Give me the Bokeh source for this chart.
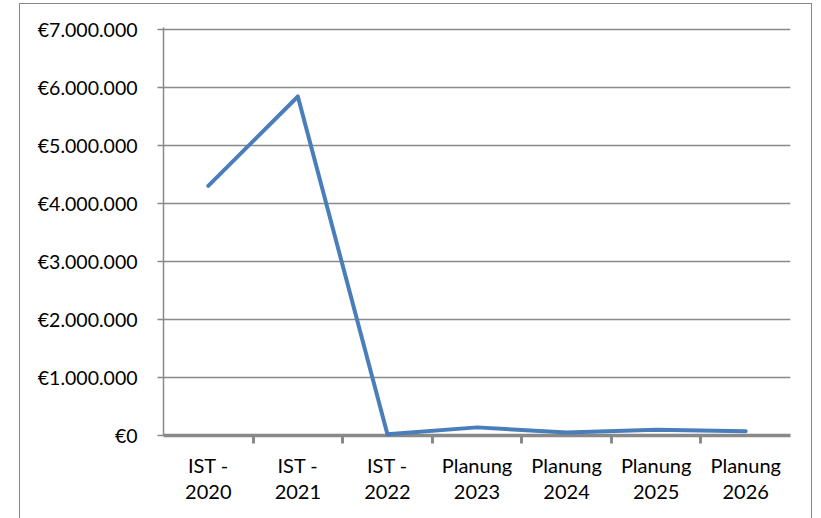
from bokeh.plotting import figure
from bokeh.models import (FactorRange, Range1d, CategoricalAxis, CustomJSTickFormatter,
                          FixedTicker, ColumnDataSource, InlineStyleSheet)
from bokeh.embed import file_html
from bokeh.resources import INLINE

categories = ["IST - 2020", "IST - 2021", "IST - 2022", "Planung 2023",
              "Planung 2024", "Planung 2025", "Planung 2026"]
label_line1 = ["IST -", "IST -", "IST -", "Planung", "Planung", "Planung", "Planung"]
label_line2 = ["2020", "2021", "2022", "2023", "2024", "2025", "2026"]
values = [4300000, 5840000, 20000, 140000, 50000, 100000, 75000]
y_ticks = [0, 1000000, 2000000, 3000000, 4000000, 5000000, 6000000, 7000000]
y_tick_labels = ["€0", "€1.000.000", "€2.000.000", "€3.000.000", "€4.000.000",
                 "€5.000.000", "€6.000.000", "€7.000.000"]

FONT = "Lato"
GRAY = "#898989"

src = ColumnDataSource(data=dict(x=categories, y=values))

# outer chart-area border (drawn with CSS around the figure host)
border_css = InlineStyleSheet(css="""
:host::after {
  content: "";
  position: absolute;
  left: 19px; top: 3px; width: 793px; height: 600px;
  border: 1px solid #898989;
  pointer-events: none;
  box-sizing: border-box;
}
""")

p = figure(width=821, height=518, output_backend="svg", toolbar_location=None,
           x_range=FactorRange(factors=categories, range_padding=0),
           y_range=Range1d(y_ticks[0], y_ticks[-1] * 1.004),
           x_axis_location=None, y_axis_location="left",
           min_border_left=163, min_border_right=31, min_border_top=27,
           min_border_bottom=83, stylesheets=[border_css])
p.outline_line_color = None
p.background_fill_color = "white"
p.border_fill_color = "white"

# y axis
p.yaxis.ticker = FixedTicker(ticks=y_ticks)
p.yaxis.major_label_overrides = dict(zip(y_ticks, y_tick_labels))
p.yaxis.axis_line_color = GRAY
p.yaxis.axis_line_width = 1.5
p.yaxis.major_tick_line_color = GRAY
p.yaxis.major_tick_line_width = 1.3
p.yaxis.major_tick_in = 0
p.yaxis.major_tick_out = 6
p.yaxis.minor_tick_line_color = None
p.yaxis.major_label_standoff = 20
p.yaxis.major_label_text_font = FONT
p.yaxis.major_label_text_font_size = "19.5px"
p.yaxis.major_label_text_color = "black"

p.ygrid.grid_line_color = GRAY
p.ygrid.grid_line_width = 1.3
p.xgrid.visible = False

# x axis line with ticks at the category boundaries (shifted factor range)
boundaries = ["b%d" % i for i in range(len(categories) + 1)]
p.extra_x_ranges = {"bounds": FactorRange(factors=boundaries, range_padding=-0.5,
                                          range_padding_units="absolute")}
tick_axis = CategoricalAxis(x_range_name="bounds",
                            axis_line_color=GRAY, axis_line_width=3.5,
                            major_tick_line_color=GRAY, major_tick_line_width=3,
                            major_tick_in=0, major_tick_out=8,
                            minor_tick_line_color=None,
                            major_label_text_font_size="1px",
                            major_label_text_color=None,
                            major_label_standoff=0)
p.add_layout(tick_axis, "below")

code = "const i = names.indexOf(tick); return i >= 0 ? labels[i] : '';"
ax1 = CategoricalAxis(axis_line_color=None, major_tick_line_color=None,
                      major_tick_in=0, major_tick_out=0,
                      formatter=CustomJSTickFormatter(
                          args=dict(names=categories, labels=label_line1), code=code),
                      major_label_text_font=FONT, major_label_text_font_size="20px",
                      major_label_text_color="black", major_label_standoff=9)
p.add_layout(ax1, "below")

ax2 = CategoricalAxis(axis_line_color=None, major_tick_line_color=None,
                      major_tick_in=0, major_tick_out=0,
                      formatter=CustomJSTickFormatter(
                          args=dict(names=categories, labels=label_line2), code=code),
                      major_label_text_font=FONT, major_label_text_font_size="20px",
                      major_label_text_color="black", major_label_standoff=5)
p.add_layout(ax2, "below")

p.line(x="x", y="y", source=src, line_color="#4a7ebb", line_width=4,
       line_join="round", line_cap="round", level="overlay")

open("out.html", "w").write(file_html(p, INLINE))
